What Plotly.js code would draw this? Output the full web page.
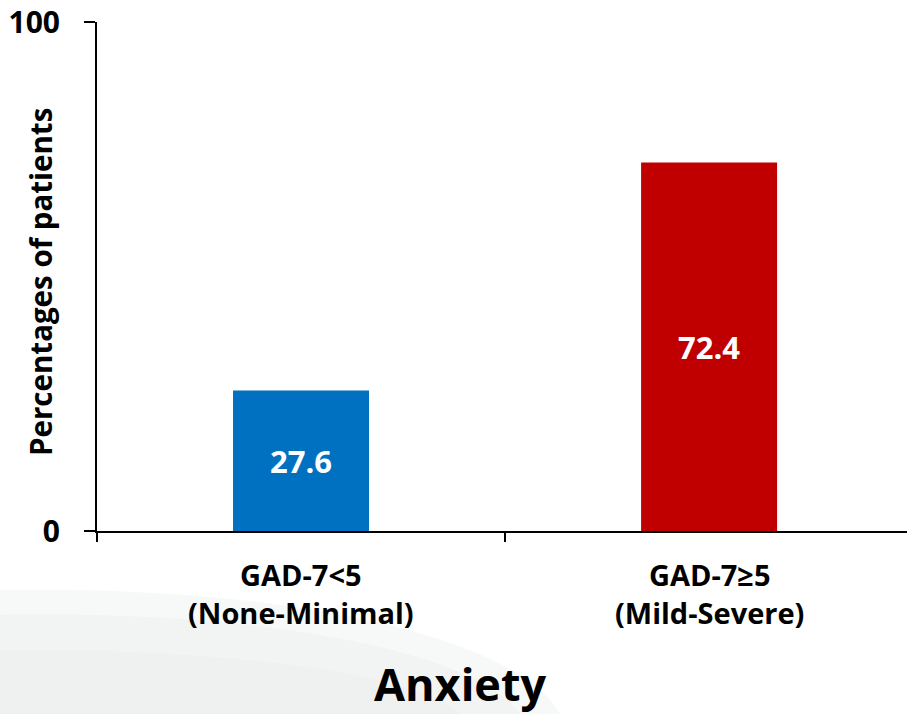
<!DOCTYPE html>
<html>
<head>
<meta charset="utf-8">
<script src="https://cdn.plot.ly/plotly-3.0.1.min.js"></script>
<style>
  html, body { margin: 0; padding: 0; background: #ffffff; }
  #chart { width: 907px; height: 714px; }
</style>
</head>
<body>
<div id="chart"></div>
<script>
// Anxiety severity split (GAD-7), percentage of patients
const categories = ["GAD-7<5", "GAD-7≥5"];
const categoryNotes = ["(None-Minimal)", "(Mild-Severe)"];
const percentages = [27.6, 72.4];
const barColors = ["#0070C0", "#C00000"];
const yTickValues = [0, 100];
const yTickLabels = ["0", "100"];

const FONT = "'Open Sans', 'Noto Sans', 'DejaVu Sans', sans-serif";
const escapeText = s => s.replace(/</g, "&lt;");

const trace = {
  type: "bar",
  x: categories,
  y: percentages,
  width: 0.3333,
  marker: { color: barColors, line: { width: 0 } },
  text: percentages.map(v => v.toFixed(1)),
  textposition: "inside",
  insidetextanchor: "middle",
  textangle: 0,
  textfont: { family: FONT, size: 31, color: "#ffffff", weight: 700 },
  hoverinfo: "none",
  cliponaxis: false
};

// helpers: page pixels -> paper coordinates (plot area spans x 97..907, y 22..531)
const px2x = px => (px - 97) / 810;
const px2y = py => (531 - py) / 509;

// faint decorative swoosh in the lower-left corner
const swooshBands = [
  { pts: [[0, 590], [300, 585], [520, 640], [560, 714], [0, 714]], color: "rgba(232,236,236,0.35)" },
  { pts: [[0, 615], [280, 610], [480, 655], [520, 714], [0, 714]], color: "rgba(232,236,236,0.35)" },
  { pts: [[0, 650], [260, 648], [430, 680], [460, 714], [0, 714]], color: "rgba(232,236,236,0.30)" }
];
const swoosh = swooshBands.map(b => {
  const p = b.pts.map(([x, y]) => [px2x(x).toFixed(4), px2y(y).toFixed(4)]);
  return {
    type: "path",
    xref: "paper", yref: "paper",
    path: `M ${p[0][0]},${p[0][1]} C ${p[1][0]},${p[1][1]} ${p[2][0]},${p[2][1]} ${p[3][0]},${p[3][1]} L ${p[4][0]},${p[4][1]} Z`,
    fillcolor: b.color,
    line: { width: 0 },
    layer: "below"
  };
});

const boldFont = (size, color) => ({ family: FONT, size: size, color: color || "#000000", weight: 700 });

// two-line category labels under the axis
const categoryLabels = categories.map((c, i) => ({
  text: escapeText(c) + "<br>" + categoryNotes[i],
  x: c, xref: "x", yref: "paper", y: px2y(593),
  xanchor: "center", yanchor: "middle", align: "center",
  showarrow: false, font: boldFont(29)
}));

const layout = {
  width: 907,
  height: 714,
  margin: { l: 97, r: 0, t: 22, b: 183, pad: 0 },
  paper_bgcolor: "#ffffff",
  plot_bgcolor: "rgba(0,0,0,0)",
  showlegend: false,
  font: { family: FONT, color: "#000000" },
  xaxis: {
    type: "category",
    range: [-0.5, 1.485],
    showline: true,
    linecolor: "#000000",
    linewidth: 2,
    ticks: "outside",
    tickson: "boundaries",
    ticklen: 9,
    tickwidth: 1.5,
    tickcolor: "#000000",
    showticklabels: false,
    showgrid: false,
    zeroline: false,
    fixedrange: true
  },
  yaxis: {
    range: [0, 100],
    tickvals: yTickValues,
    ticktext: yTickLabels,
    showline: true,
    linecolor: "#000000",
    linewidth: 2,
    ticks: "outside",
    ticklen: 11,
    tickwidth: 1.5,
    tickcolor: "#000000",
    tickfont: boldFont(30),
    ticklabelstandoff: 18,
    showgrid: false,
    zeroline: false,
    fixedrange: true
  },
  annotations: categoryLabels.concat([
    {
      text: "Percentages of patients",
      xref: "paper", yref: "paper",
      x: px2x(40), y: px2y(282),
      xanchor: "center", yanchor: "middle",
      textangle: -90,
      showarrow: false,
      font: boldFont(29.5)
    },
    {
      text: "Anxiety",
      xref: "paper", yref: "paper",
      x: px2x(460), y: px2y(683),
      xanchor: "center", yanchor: "middle",
      showarrow: false,
      font: boldFont(45)
    }
  ]),
  shapes: swoosh
};

Plotly.newPlot("chart", [trace], layout, { displayModeBar: false, staticPlot: true });
</script>
</body>
</html>
